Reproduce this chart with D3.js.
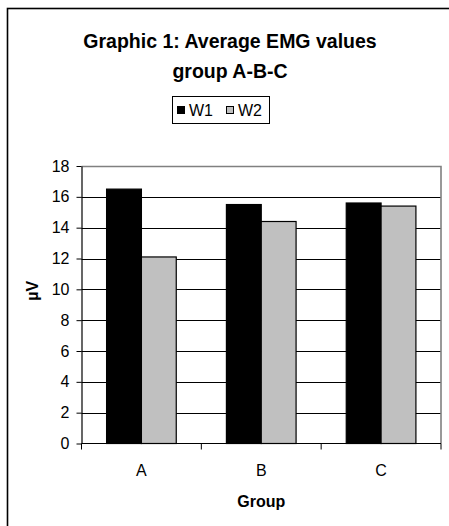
<!DOCTYPE html>
<html>
<head>
<meta charset="utf-8">
<script src="https://cdn.jsdelivr.net/npm/d3@7"></script>
<style>
  html, body { margin: 0; padding: 0; background: #fff; }
  svg { display: block; font-family: "Liberation Sans", Arial, sans-serif; }
</style>
</head>
<body>
<svg id="chart" width="449" height="526"></svg>
<script>
// Average EMG values per group, two measurement waves
const groups = ["A", "B", "C"];
const seriesNames = ["W1", "W2"];
const w1Values = [16.5, 15.5, 15.6];
const w2Values = [12.1, 14.4, 15.4];
const yTicks = [0, 2, 4, 6, 8, 10, 12, 14, 16, 18];
const titleLines = ["Graphic 1: Average EMG values", "group A-B-C"];
const yLabel = "µV";
const xLabel = "Group";

const colors = { W1: "#000000", W2: "#c0c0c0" };
const valuesBySeries = { W1: w1Values, W2: w2Values };
const labelFont = 16;

const svg = d3.select("#chart");

// Plot area
const plot = { left: 81.5, right: 441, top: 166, bottom: 443.5 };

// Outer chart frame (extends past the visible page on the right and bottom)
svg.append("rect")
  .attr("x", 7.5).attr("y", 8.5)
  .attr("width", 470).attr("height", 540)
  .attr("fill", "#fff")
  .attr("stroke", "#000").attr("stroke-width", 1.6);

const x = d3.scaleBand().domain(groups).range([plot.left, plot.right]).padding(0);
const xInner = d3.scaleBand().domain(seriesNames).range([0, x.bandwidth()])
  .paddingInner(0).paddingOuter(0.72);
const y = d3.scaleLinear().domain([0, 18]).range([plot.bottom, plot.top]);

// Horizontal gridlines
svg.append("g").selectAll("line")
  .data(yTicks.filter(t => t > 0 && t < 18))
  .join("line")
  .attr("x1", plot.left).attr("x2", plot.right)
  .attr("y1", d => Math.round(y(d)) + 0.5).attr("y2", d => Math.round(y(d)) + 0.5)
  .attr("stroke", "#000").attr("stroke-width", 1);

// Plot-area border (top and right in grey)
svg.append("path")
  .attr("d", `M${plot.left},${plot.top + 0.5}H${plot.right}V${plot.bottom}`)
  .attr("fill", "none").attr("stroke", "#808080").attr("stroke-width", 1.6);

// Bars
const rows = groups.map((g, i) => ({ group: g, values: seriesNames.map(s => ({ s, v: valuesBySeries[s][i] })) }));
svg.append("g").selectAll("g")
  .data(rows)
  .join("g")
  .attr("transform", d => `translate(${x(d.group)},0)`)
  .selectAll("rect")
  .data(d => d.values)
  .join("rect")
  .attr("x", d => xInner(d.s))
  .attr("y", d => y(d.v))
  .attr("width", xInner.bandwidth())
  .attr("height", d => y(0) - y(d.v))
  .attr("fill", d => colors[d.s])
  .attr("stroke", "#000").attr("stroke-width", 1.2);

// Y axis
const yAxis = svg.append("g")
  .attr("transform", `translate(${plot.left},0)`)
  .call(d3.axisLeft(y).tickValues(yTicks).tickSize(5).tickPadding(7).tickSizeOuter(0));
yAxis.select(".domain").attr("stroke", "#000").attr("stroke-width", 1.2);
yAxis.selectAll(".tick line").attr("stroke", "#000");
yAxis.selectAll(".tick text")
  .attr("font-size", labelFont).attr("fill", "#000")
  .attr("font-family", "Liberation Sans, Arial, sans-serif");

// X axis: labels at band centres, tick marks at band boundaries
const xAxis = svg.append("g")
  .attr("transform", `translate(0,${plot.bottom})`)
  .call(d3.axisBottom(x).tickSize(0).tickPadding(21).tickSizeOuter(0));
xAxis.select(".domain").remove();
xAxis.selectAll(".tick text")
  .attr("font-size", labelFont).attr("fill", "#000")
  .attr("font-family", "Liberation Sans, Arial, sans-serif");
svg.append("line")
  .attr("x1", plot.left).attr("x2", plot.right)
  .attr("y1", plot.bottom).attr("y2", plot.bottom)
  .attr("stroke", "#000").attr("stroke-width", 1.2);
const boundaries = groups.map(g => x(g)).concat([x(groups[groups.length - 1]) + x.bandwidth()]);
svg.append("g").selectAll("line")
  .data(boundaries)
  .join("line")
  .attr("x1", d => d).attr("x2", d => d)
  .attr("y1", plot.bottom).attr("y2", plot.bottom + 6)
  .attr("stroke", "#000").attr("stroke-width", 1);

// Title
svg.append("g").selectAll("text")
  .data(titleLines)
  .join("text")
  .attr("x", 230).attr("y", (d, i) => 48 + i * 30)
  .attr("text-anchor", "middle")
  .attr("font-size", 19.5).attr("font-weight", "bold")
  .text(d => d);

// Legend
const legend = svg.append("g");
legend.append("rect")
  .attr("x", 172.5).attr("y", 96.5).attr("width", 97).attr("height", 27)
  .attr("fill", "#fff").attr("stroke", "#000").attr("stroke-width", 1);
const legendX = [177, 226];
legend.selectAll("g.item")
  .data(seriesNames)
  .join("g").attr("class", "item")
  .each(function (s, i) {
    const g = d3.select(this);
    g.append("rect")
      .attr("x", legendX[i] + 0.5).attr("y", 106.5).attr("width", 7).attr("height", 7)
      .attr("fill", colors[s]).attr("stroke", "#000").attr("stroke-width", 1);
    g.append("text")
      .attr("x", legendX[i] + 12).attr("y", 116)
      .attr("font-size", labelFont)
      .text(s);
  });

// Axis titles
svg.append("text")
  .attr("transform", `translate(38,${(plot.top + plot.bottom) / 2 - 14}) rotate(-90)`)
  .attr("text-anchor", "middle")
  .attr("font-size", labelFont).attr("font-weight", "bold")
  .text(yLabel);
svg.append("text")
  .attr("x", (plot.left + plot.right) / 2).attr("y", 507)
  .attr("text-anchor", "middle")
  .attr("font-size", labelFont).attr("font-weight", "bold")
  .text(xLabel);
</script>
</body>
</html>
